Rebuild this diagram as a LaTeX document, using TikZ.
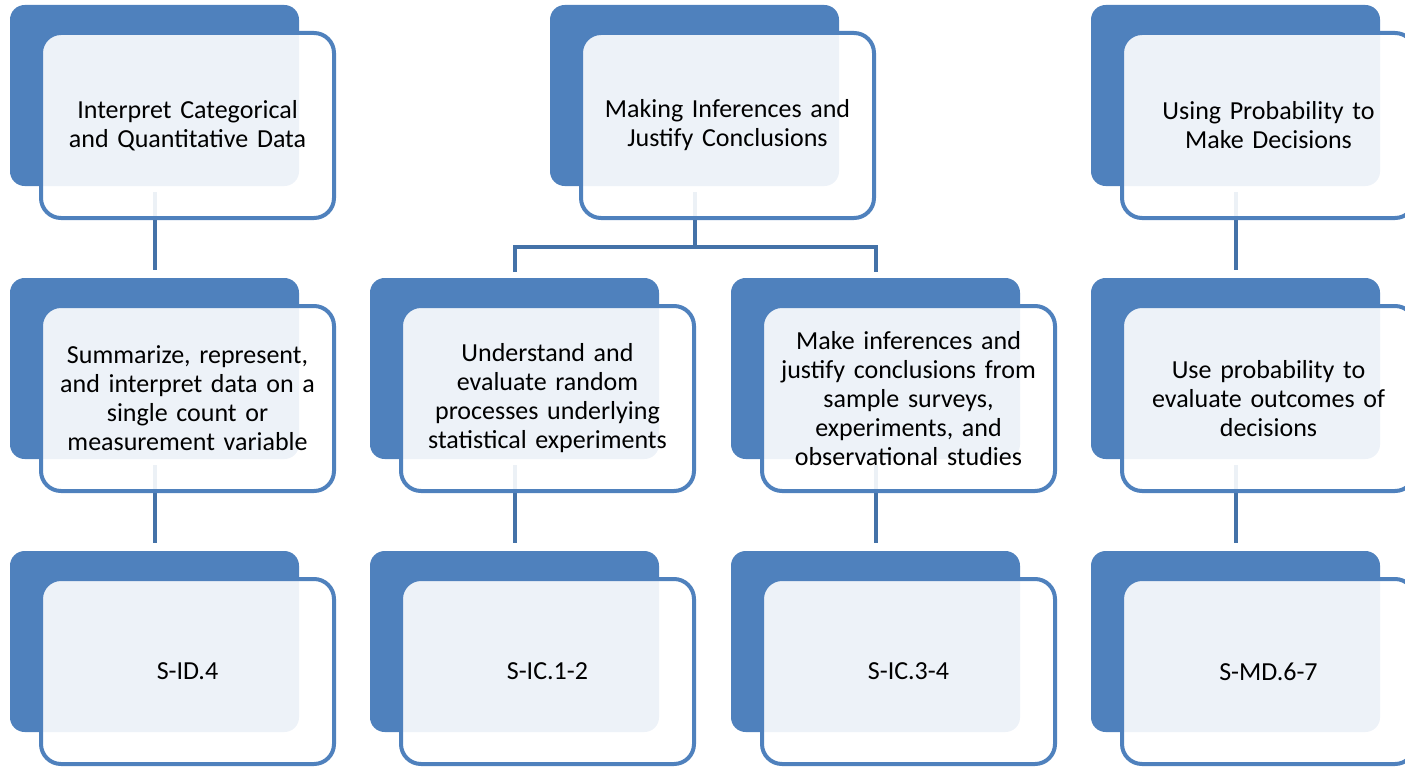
\documentclass[tikz,border=0pt]{standalone}
\usepackage{fontspec}
\setmainfont{Carlito}
\begin{document}
\begin{tikzpicture}[x=0.75pt,y=-0.75pt,
  backbox/.style={anchor=north west,rectangle,rounded corners=11pt,fill=blueA,draw=none,
    minimum width=216.75pt,minimum height=135.75pt,inner sep=0pt,outer sep=0pt},
  frontbox/.style={anchor=north west,rectangle,rounded corners=15pt,fill=white,fill opacity=0.9,
    text opacity=1,draw=blueA,draw opacity=1,line width=3pt,
    minimum width=219.75pt,minimum height=138.75pt,inner sep=0pt,outer sep=0pt,
    text width=215pt,align=center,
    font=\fontsize{19.5pt}{21.75pt}\selectfont},
  conn/.style={draw=connC,line width=3pt}]
\definecolor{blueA}{HTML}{4F81BD}
\definecolor{connC}{HTML}{4472A8}
\useasboundingbox (0,0) rectangle (1405,767);
\clip (0,0) rectangle (1405,767);
% back boxes
\node[backbox] (b11) at (10,5) {};
\node[backbox] (b12) at (550,5) {};
\node[backbox] (b14) at (1091,5) {};
\node[backbox] (b21) at (10,278) {};
\node[backbox] (b22) at (370,278) {};
\node[backbox] (b23) at (731,278) {};
\node[backbox] (b24) at (1091,278) {};
\node[backbox] (b31) at (10,551) {};
\node[backbox] (b32) at (370,551) {};
\node[backbox] (b33) at (731,551) {};
\node[backbox] (b34) at (1091,551) {};
% connectors
\draw[conn] ([yshift=-4.5pt]b11.south) -- ([yshift=6pt]b21.north);
\draw[conn] ([yshift=-4.5pt]b21.south) -- ([yshift=6pt]b31.north);
\draw[conn] ([yshift=-4.5pt]b14.south) -- ([yshift=6pt]b24.north);
\draw[conn] ([yshift=-4.5pt]b24.south) -- ([yshift=6pt]b34.north);
\draw[conn] ([yshift=-4.5pt]b22.south) -- ([yshift=6pt]b32.north);
\draw[conn] ([yshift=-4.5pt]b23.south) -- ([yshift=6pt]b33.north);
\draw[conn] ([yshift=-4.5pt]b12.south) -- ([yshift=-45.75pt]b12.south) coordinate (j);
\draw[conn] ([yshift=4.5pt]b22.north) |- (j) -| ([yshift=4.5pt]b23.north);
% front boxes
\node[frontbox] (f11) at (41,33) {Interpret Categorical\\and Quantitative Data};
\node[frontbox] (f12) at (581,33) {Making Inferences and\\Justify Conclusions};
\node[frontbox] (f14) at (1122,33) {Using Probability to\\Make Decisions};
\node[frontbox] (f21) at (41,306) {Summarize, represent,\\and interpret data on a\\single count or\\measurement variable};
\node[frontbox] (f22) at (401,306) {Understand and\\evaluate random\\processes underlying\\statistical experiments};
\node[frontbox] (f23) at (762,306) {Make inferences and\\justify conclusions from\\sample surveys,\\experiments, and\\observational studies};
\node[frontbox] (f24) at (1122,306) {Use probability to\\evaluate outcomes of\\decisions};
\node[frontbox] (f31) at (41,579) {S-ID.4};
\node[frontbox] (f32) at (401,579) {S-IC.1-2};
\node[frontbox] (f33) at (762,579) {S-IC.3-4};
\node[frontbox] (f34) at (1122,579) {S-MD.6-7};
\end{tikzpicture}
\end{document}
